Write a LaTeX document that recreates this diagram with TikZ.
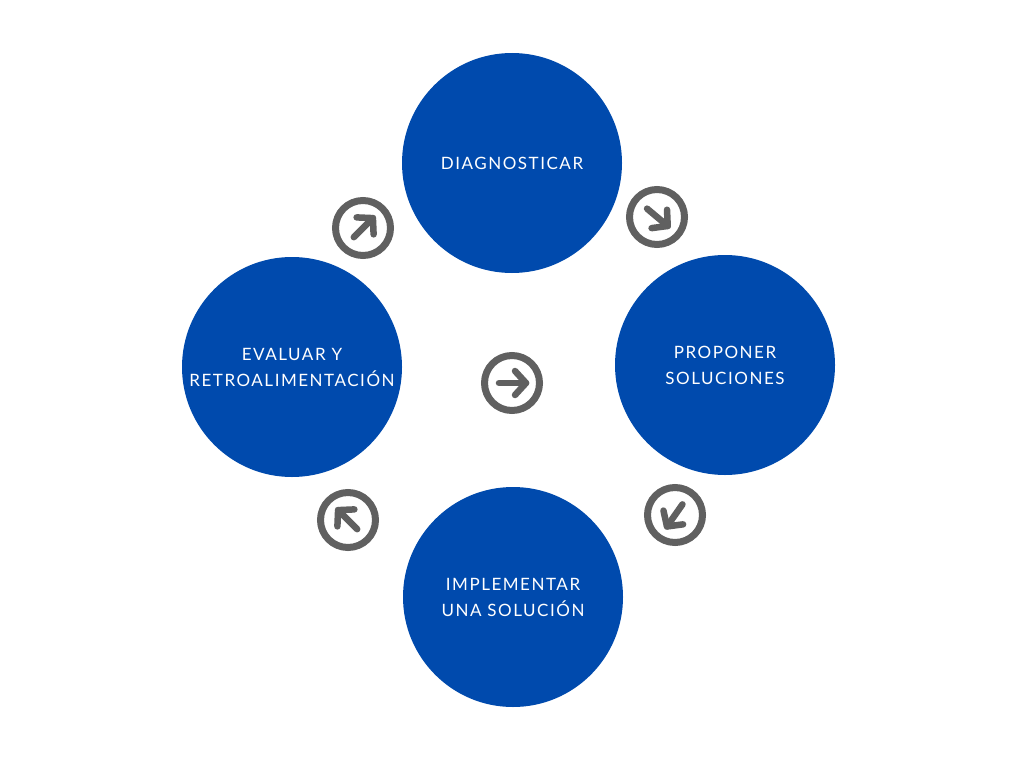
\documentclass[tikz,border=0pt]{standalone}
\usepackage{fontspec}
\setmainfont{Lato}[LetterSpace=9]
\definecolor{cblue}{HTML}{004AAD}
\definecolor{cgray}{HTML}{606060}
\tikzset{
  stage/.style={circle, fill=cblue, minimum size=220pt, inner sep=0pt, text=white,
    font=\fontsize{17}{26}\selectfont, align=center},
  ringicon/.style={circle, draw=cgray, line width=7pt, minimum size=55pt, inner sep=0pt},
  arrowline/.style={draw=cgray, line width=6.5pt, line cap=round, line join=round}
}
\newcommand{\arrowglyph}[2]{%
  \begin{scope}[shift={(#1)}, rotate=#2]
    \draw[arrowline] (-13,0) -- (14,0);
    \draw[arrowline] (3,12) -- (14,0) -- (3,-12);
  \end{scope}}
\begin{document}
\begin{tikzpicture}[x=1pt, y=-1pt]
\useasboundingbox (0,0) rectangle (1024,768);
\fill[white] (0,0) rectangle (1024,768);
\node[stage] (diag) at (512,163) {DIAGNOSTICAR};
\node[stage] (prop) at (725,365) {PROPONER\\SOLUCIONES};
\node[stage] (impl) at (513,597) {IMPLEMENTAR\\UNA SOLUCIÓN};
\node[stage] (eval) at (292,367) {EVALUAR Y\\RETROALIMENTACIÓN};
\node[ringicon] (i1) at (363,228) {};
\node[ringicon] (i2) at (657,217) {};
\node[ringicon] (i3) at (512,383) {};
\node[ringicon] (i4) at (675,515) {};
\node[ringicon] (i5) at (348,520) {};
\arrowglyph{i1}{45}
\arrowglyph{i2}{-40}
\arrowglyph{i3}{0}
\arrowglyph{i4}{-125}
\arrowglyph{i5}{135}
\end{tikzpicture}
\end{document}
